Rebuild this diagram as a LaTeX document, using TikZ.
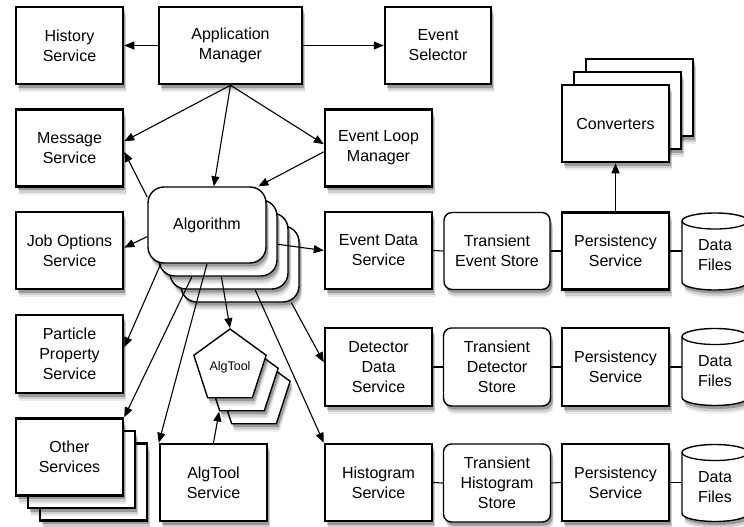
\documentclass[tikz,border=0pt]{standalone}
\usepackage{fontspec}
\setmainfont{Liberation Sans}
\usetikzlibrary{shadows,shapes.geometric,arrows.meta}
\newcommand\datafiles[2]{%
  \path (#2) coordinate (#1c);
  \draw[cyl] ([xshift=-33pt,yshift=30.5pt]#1c) -- ([xshift=-33pt,yshift=-30.5pt]#1c)
     arc[start angle=180,end angle=360,x radius=33pt,y radius=8pt]
     -- ([xshift=33pt,yshift=30.5pt]#1c)
     arc[start angle=0,end angle=180,x radius=33pt,y radius=8pt] -- cycle;
  \draw[line width=1.3pt] ([xshift=-33pt,yshift=30.5pt]#1c)
     arc[start angle=180,end angle=360,x radius=33pt,y radius=8pt];
  \node[txt,minimum width=66pt,minimum height=77pt] (#1) at (#1c) {};
  \node[txt,yshift=-4pt] (#1t) at (#1c) {Data\\Files};
}
\begin{document}
\begin{tikzpicture}[x=1pt,y=-1pt,
  shad/.style={
    drop shadow={shadow xshift=3pt,shadow yshift=-8pt,opacity=0.08,fill=black},
    drop shadow={shadow xshift=2.5pt,shadow yshift=-6pt,opacity=0.12,fill=black},
    drop shadow={shadow xshift=2pt,shadow yshift=-3.5pt,opacity=0.25,fill=black}},
  txt/.style={inner sep=0pt,align=center,font=\fontsize{16}{20}\selectfont},
  box/.style={txt,draw,line width=2.5pt,fill=white,minimum width=107pt,minimum height=77pt,shad},
  rbox/.style={box,line width=1.4pt,rounded corners=8pt},
  algbox/.style={txt,draw,line width=1.4pt,fill=white,rounded corners=16pt,minimum width=118pt,minimum height=76pt,shad},
  pentbox/.style={draw,line width=1.4pt,fill=white,regular polygon,regular polygon sides=5,minimum size=76pt,inner sep=0pt,font=\fontsize{12.5}{14}\selectfont,shad},
  cyl/.style={line width=1.4pt,fill=white,shad},
  arr/.style={line width=1.1pt,-{Triangle[length=10pt,width=8pt]}},
  link/.style={line width=1.1pt}
]
\useasboundingbox (0,0) rectangle (744,527);

% top row
\node[box] (hist) at (69.5,45.5) {History\\Service};
\node[box,minimum width=143pt] (app) at (230.5,45.5) {Application\\Manager};
\node[box,minimum width=106pt] (evsel) at (438,45.5) {Event\\Selector};

% second row
\node[box] (msg) at (69.5,148) {Message\\Service};
\node[box] (elm) at (378.5,148) {Event Loop\\Manager};

% converters
\node[box] (conv3) at (639.5,97.5) {};
\node[box] (conv2) at (627.5,110.5) {};
\node[box] (conv) at (615.5,123.5) {Converters};

% algorithm stack
\node[algbox] (alg4) at (240,264) {};
\node[algbox] (alg3) at (229,251) {};
\node[algbox] (alg2) at (218,238) {};
\node[algbox] (alg) at (207,225) {Algorithm};

% third row
\node[box] (jobopt) at (69.5,250.5) {Job Options\\Service};
\node[box] (evdata) at (378.5,250.5) {Event Data\\Service};
\node[rbox,minimum width=106pt] (tes) at (497,251) {Transient\\Event Store};
\node[box] (pers1) at (615.5,251) {Persistency\\Service};
\datafiles{df1}{715,251.5}

% fourth row
\node[box,minimum height=78pt] (particle) at (69.5,354) {Particle\\Property\\Service};
\node[box,minimum height=78pt] (detdata) at (378.5,367) {Detector\\Data\\Service};
\node[rbox,minimum height=78pt] (tds) at (497,367) {Transient\\Detector\\Store};
\node[box,minimum height=78pt] (pers2) at (615.5,367) {Persistency\\Service};
\datafiles{df2}{715,367}

% algtool pentagons
\node[pentbox] (pent3) at (254,393) {};
\node[pentbox] (pent2) at (242,380) {};
\node[pentbox] (pent) at (230,367) {AlgTool};

% bottom row
\node[box] (other3) at (93.5,482) {};
\node[box] (other2) at (81.5,469.5) {};
\node[box] (other) at (69.5,457) {Other\\Services};
\node[box] (algsvc) at (213.5,482.5) {AlgTool\\Service};
\node[box] (histsvc) at (378.5,482.5) {Histogram\\Service};
\node[rbox,minimum height=78pt] (ths) at (497,483) {Transient\\Histogram\\Store};
\node[box] (pers3) at (615.5,482.5) {Persistency\\Service};
\datafiles{df3}{715,483}

% connectors
\draw[arr] (app.west) -- (hist.east);
\draw[arr] (app.east) -- (evsel.west);
\draw[arr] (app.south) -- (msg.7);
\draw[arr] (app.south) -- (alg.80);
\draw[arr] (app.south) -- (elm.176);
\draw[arr] (elm.184) -- (alg.37);
\draw[arr] (alg.155) -- (msg.-4);
\draw[arr] (alg.191) -- (jobopt.3);
\draw[arr] (alg2.-6) -- (evdata.west);
\draw[arr] (alg.220) -- (particle.7);
\draw[arr] (alg2.236) -- (other.north east);
\draw[arr] (alg.south) -- (algsvc.north west);
\draw[arr] (alg2.-85) -- (pent.corner 1);
\draw[arr] (algsvc.north) -- (pent2.corner 3);
\draw[arr] (alg3.-56) -- (histsvc.north west);
\draw[arr] (alg4.-37) -- (detdata.175);
\draw[arr] (pers1.north) -- (conv.south);

\draw[link] (evdata.east) -- (tes.west);
\draw[link] (tes.east) -- (pers1.west);
\draw[link] (pers1.east) -- (pers1.east -| df1.west);
\draw[link] (detdata.east) -- (tds.west);
\draw[link] (tds.east) -- (pers2.west);
\draw[link] (pers2.east) -- (pers2.east -| df2.west);
\draw[link] (histsvc.east) -- (ths.west);
\draw[link] (ths.east) -- (pers3.west);
\draw[link] (pers3.east) -- (pers3.east -| df3.west);
\end{tikzpicture}
\end{document}
